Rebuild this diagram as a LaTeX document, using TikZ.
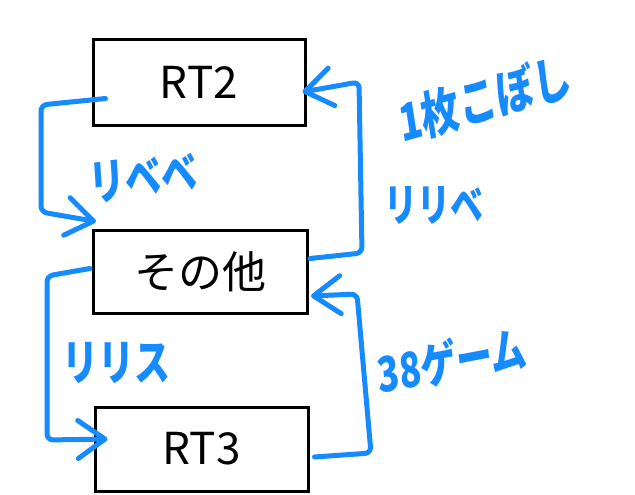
\documentclass[tikz,border=0pt]{standalone}
\usepackage{fontspec}
\setmainfont{Noto Sans CJK JP}
\usetikzlibrary{arrows.meta}
\definecolor{penblue}{RGB}{22,138,255}
\begin{document}
\begin{tikzpicture}[x=1pt,y=-1pt,
        box/.style={draw,line width=3pt,inner sep=0pt,font=\fontsize{44}{48}\selectfont},
        flow/.style={color=penblue,line width=5pt,line cap=round,line join=round,rounded corners=6pt,
            -{Straight Barb[length=27pt,width=38pt,round]}},
        note/.style={color=penblue,font=\bfseries\fontsize{36}{40}\selectfont,inner sep=0pt,yscale=1.35}]
                \useasboundingbox (0,0) rectangle (635,495);

                \node[box,minimum width=212pt,minimum height=85pt] (rt2) at (199,82.5) {RT2};
                \node[box,minimum width=214pt,minimum height=83pt] (other) at (200.5,271.5) {その他};
                \node[box,minimum width=213pt,minimum height=84pt] (rt3) at (201.5,449) {RT3};

                \draw[flow] ([shift={(14,16)}]rt2.west) -- (41,105) -- (41,212) -- ([shift={(4,-7)}]other.north west);
                \draw[flow] ([shift={(1,-13)}]other.east) -- (362,253) -- (359,82) -- ([shift={(-4,9.5)}]rt2.east);
                \draw[flow] ([shift={(-2,-3)}]other.west) -- (47,276) -- (47,440) -- ([shift={(14,-10)}]rt3.west);
                \draw[flow] ([shift={(5,8)}]rt3.east) -- (371,453) -- (357,294) -- ([shift={(2,24.5)}]other.east);

                \node[note,rotate=5] (n1) at (143,178) {リベベ};
                \node[note,rotate=12,font=\bfseries\fontsize{38}{42}\selectfont] (n2) at (485,99) {1枚こぼし};
                \node[note,font=\bfseries\fontsize{33}{38}\selectfont] (n3) at (434,205) {リリベ};
                \node[note] (n4) at (116,363) {リリス};
                \node[note,rotate=8] (n5) at (452,361) {38ゲーム};

            \end{tikzpicture}
\end{document}
